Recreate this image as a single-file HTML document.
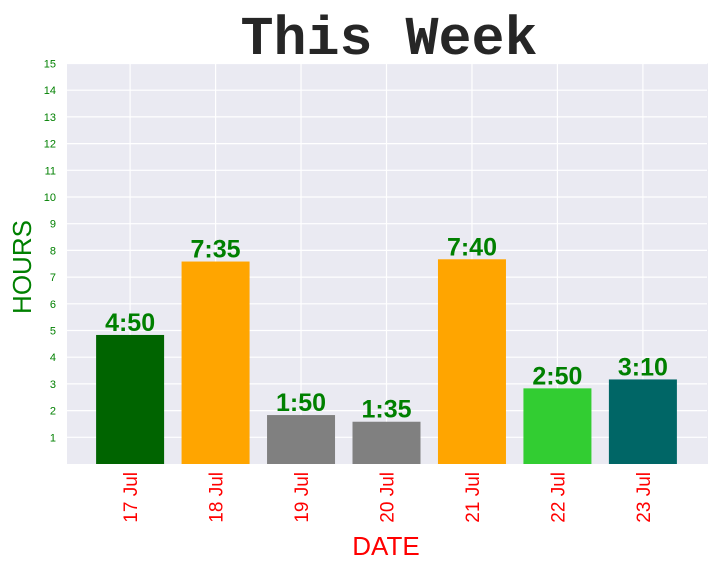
<!DOCTYPE html>
<html><head><meta charset="utf-8"><style>
body{margin:0;background:#fff}
svg{display:block}
</style></head><body>
<svg id="chart" width="716" height="571" xmlns="http://www.w3.org/2000/svg">
<rect x="0" y="0" width="716" height="571" fill="#fff"/>
<text x="389" y="54" text-anchor="middle" font-family="Liberation Mono, monospace" font-weight="bold" font-size="55" fill="#262626">This Week</text>
<rect x="67" y="63.5" width="641" height="400.5" fill="#EAEAF2"/>
<g id="grid"></g>
<g id="bars"></g>
<g id="labels"></g>
<text x="386" y="555" text-anchor="middle" font-family="Liberation Sans, sans-serif" font-size="26" fill="#FF0000">DATE</text>
<text transform="translate(31,267) rotate(-90)" text-anchor="middle" font-family="Liberation Sans, sans-serif" font-size="26" fill="#008000">HOURS</text>
</svg>
<script>
const categories = ["17 Jul","18 Jul","19 Jul","20 Jul","21 Jul","22 Jul","23 Jul"];
const values = [4.833,7.583,1.833,1.583,7.667,2.833,3.167];
const valueLabels = ["4:50","7:35","1:50","1:35","7:40","2:50","3:10"];
const barColors = ["#006400","#FFA500","#808080","#808080","#FFA500","#32CD32","#006666"];
const yTicks = [1,2,3,4,5,6,7,8,9,10,11,12,13,14,15];
const NS="http://www.w3.org/2000/svg";
const X0=66,X1=707,Y0=464,Y1=63.5;
function xs(i){return X0+(i+0.75)/7.5*(X1-X0);}
function ys(v){return Y0-(v/15)*(Y0-Y1);}
const bw=68;
function mk(tag,attrs,parent){const e=document.createElementNS(NS,tag);for(const k in attrs)e.setAttribute(k,attrs[k]);document.getElementById(parent).appendChild(e);return e;}
yTicks.forEach(t=>{
  const l=mk("line",{x1:X0,x2:X1,y1:ys(t),y2:ys(t),stroke:"#fff","stroke-width":1.2},"grid");
  
  
  const tx=mk("text",{x:56,y:ys(t)+4,"text-anchor":"end","font-family":"Liberation Sans, sans-serif","font-size":11,fill:"#008000"},"grid");
  tx.textContent=t;
  
  
});
categories.forEach((c,i)=>{
  const l=mk("line",{x1:xs(i),x2:xs(i),y1:Y1,y2:Y0,stroke:"#fff","stroke-width":1.2},"grid");
  
  
  const tx=mk("text",{transform:`translate(${xs(i)+7},472) rotate(-90)`,"text-anchor":"end","font-family":"Liberation Sans, sans-serif","font-size":19,fill:"#FF0000"},"labels");
  tx.textContent=c;
  
  
});
values.forEach((v,i)=>{
  const r=mk("rect",{x:xs(i)-bw/2,y:ys(v),width:bw,height:Y0-ys(v),fill:barColors[i]},"bars");
  
  
  const tx=mk("text",{x:xs(i),y:ys(v)-4,"text-anchor":"middle","font-family":"Liberation Sans, sans-serif","font-weight":"bold","font-size":25,fill:"#008000"},"labels");
  tx.textContent=valueLabels[i];
  
  
});
</script>
</body></html>
